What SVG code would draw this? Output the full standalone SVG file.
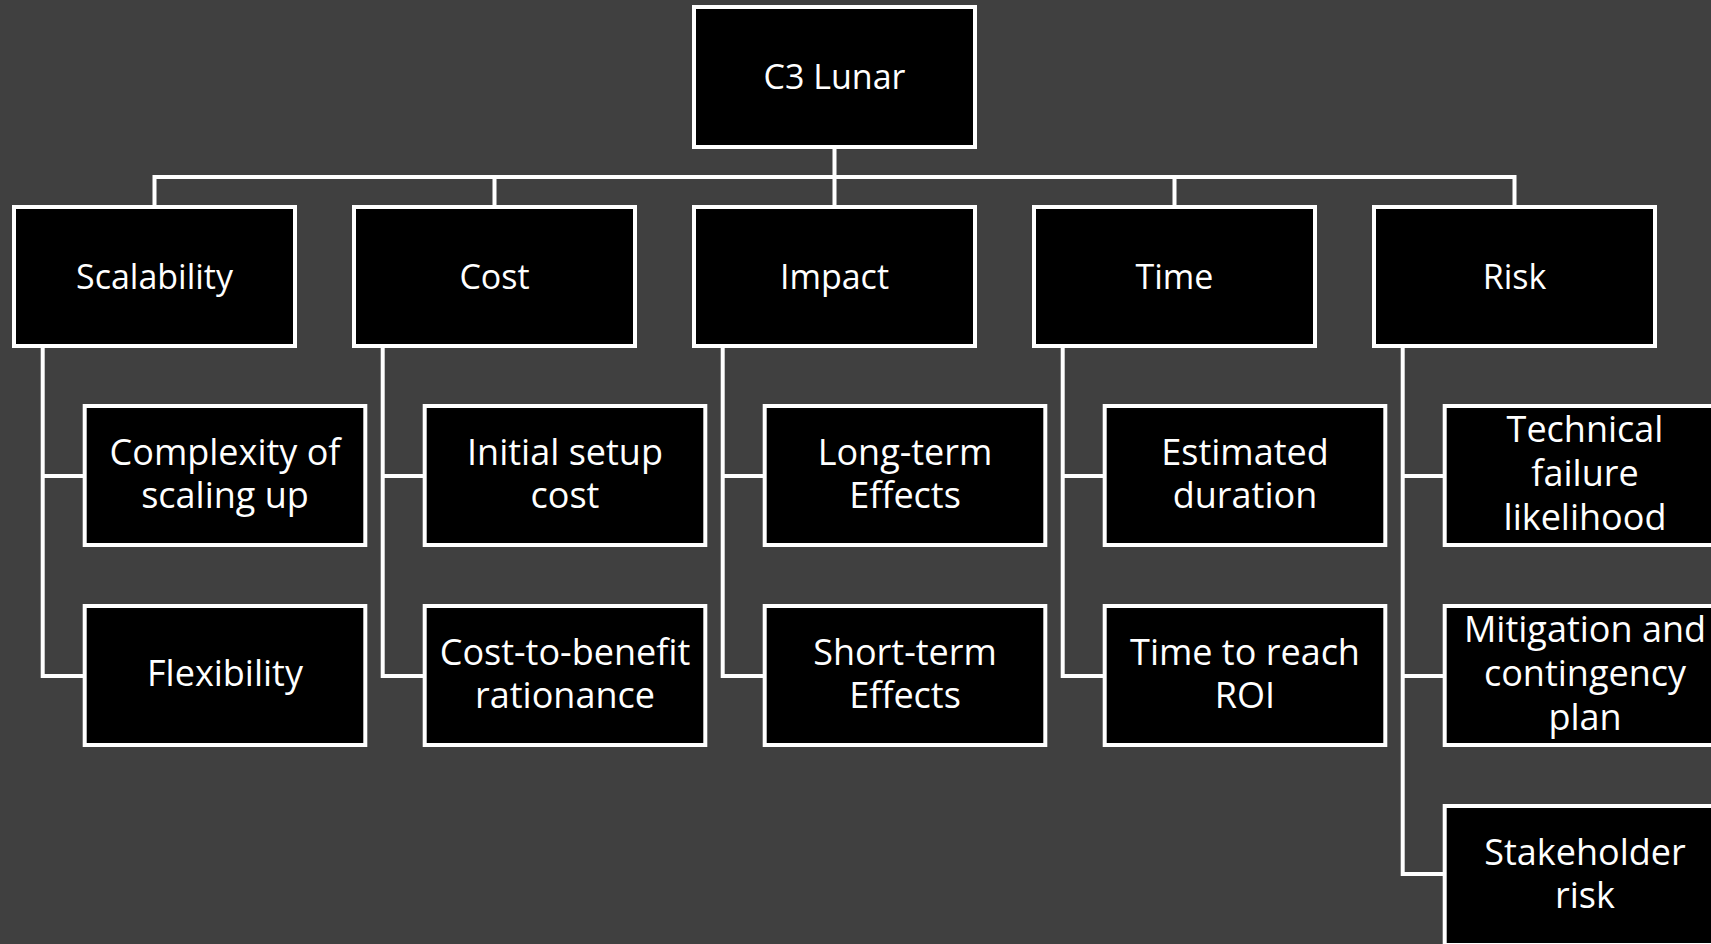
<svg xmlns="http://www.w3.org/2000/svg" width="1711" height="944" viewBox="0 0 1711 944">
<style>
.bg{fill:#404040}
.box{fill:#000;stroke:#fff;stroke-width:4}
.ln{fill:none;stroke:#fff;stroke-width:4}
text{fill:#fff;font-family:"Open Sans","Noto Sans",sans-serif;text-anchor:middle}
.t0{font-size:34px}
.t1{font-size:34px}
.t2{font-size:36px}
</style>
<rect class="bg" x="0" y="0" width="1711" height="944"/>
<g id="connectors">
<path class="ln" d="M834.5 147V177M154.5 207V177H1514.5V207M494.5 177V207M834.5 177V207M1174.5 177V207"/>
<path class="ln" d="M42.7 346V676H84.7M42.7 476H84.7"/>
<path class="ln" d="M382.7 346V676H424.7M382.7 476H424.7"/>
<path class="ln" d="M722.7 346V676H764.7M722.7 476H764.7"/>
<path class="ln" d="M1062.7 346V676H1104.7M1062.7 476H1104.7"/>
<path class="ln" d="M1402.7 346V874H1444.7M1402.7 476H1444.7M1402.7 676H1444.7"/>
</g>
<g id="root"><rect class="box" x="694" y="7" width="281" height="140"/><text class="t0" x="834.5" y="88.5">C3 Lunar</text></g>
<g id="scalability"><rect class="box" x="14" y="207" width="281" height="139"/><text class="t1" x="154.5" y="288.5">Scalability</text></g>
<g id="cost"><rect class="box" x="354" y="207" width="281" height="139"/><text class="t1" x="494.5" y="288.5">Cost</text></g>
<g id="impact"><rect class="box" x="694" y="207" width="281" height="139"/><text class="t1" x="834.5" y="288.5">Impact</text></g>
<g id="time"><rect class="box" x="1034" y="207" width="281" height="139"/><text class="t1" x="1174.5" y="288.5">Time</text></g>
<g id="risk"><rect class="box" x="1374" y="207" width="281" height="139"/><text class="t1" x="1514.5" y="288.5">Risk</text></g>
<g id="complexity"><rect class="box" x="84.7" y="406" width="280.6" height="139"/><text class="t2" x="225" y="464.5">Complexity of</text><text class="t2" x="225" y="507.5">scaling up</text></g>
<g id="flexibility"><rect class="box" x="84.7" y="606" width="280.6" height="139"/><text class="t2" x="225" y="686">Flexibility</text></g>
<g id="setup-cost"><rect class="box" x="424.7" y="406" width="280.6" height="139"/><text class="t2" x="565" y="464.5">Initial setup</text><text class="t2" x="565" y="507.5">cost</text></g>
<g id="cost-benefit"><rect class="box" x="424.7" y="606" width="280.6" height="139"/><text class="t2" x="565" y="664.5">Cost-to-benefit</text><text class="t2" x="565" y="707.5">rationance</text></g>
<g id="long-term"><rect class="box" x="764.7" y="406" width="280.6" height="139"/><text class="t2" x="905" y="464.5">Long-term</text><text class="t2" x="905" y="507.5">Effects</text></g>
<g id="short-term"><rect class="box" x="764.7" y="606" width="280.6" height="139"/><text class="t2" x="905" y="664.5">Short-term</text><text class="t2" x="905" y="707.5">Effects</text></g>
<g id="duration"><rect class="box" x="1104.7" y="406" width="280.6" height="139"/><text class="t2" x="1245" y="464.5">Estimated</text><text class="t2" x="1245" y="507.5">duration</text></g>
<g id="roi"><rect class="box" x="1104.7" y="606" width="280.6" height="139"/><text class="t2" x="1245" y="664.5">Time to reach</text><text class="t2" x="1245" y="707.5">ROI</text></g>
<g id="technical-failure"><rect class="box" x="1444.7" y="406" width="280.6" height="139"/><text class="t2" x="1585" y="442">Technical</text><text class="t2" x="1585" y="486">failure</text><text class="t2" x="1585" y="530">likelihood</text></g>
<g id="mitigation"><rect class="box" x="1444.7" y="606" width="280.6" height="139"/><text class="t2" x="1585" y="642">Mitigation and</text><text class="t2" x="1585" y="686">contingency</text><text class="t2" x="1585" y="730">plan</text></g>
<g id="stakeholder"><rect class="box" x="1444.7" y="806" width="280.6" height="139"/><text class="t2" x="1585" y="864.5">Stakeholder</text><text class="t2" x="1585" y="907.5">risk</text></g>
</svg>
